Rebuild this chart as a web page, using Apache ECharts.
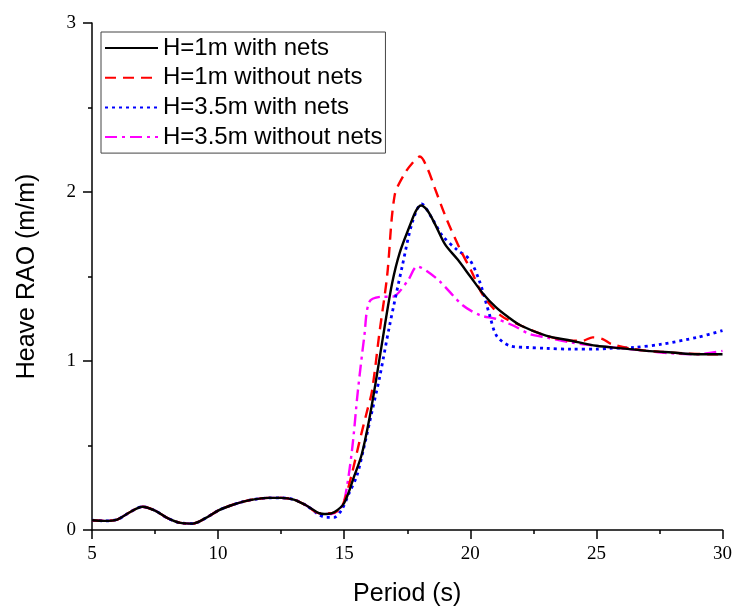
<!DOCTYPE html>
<html>
<head>
<meta charset="utf-8">
<script src="https://cdn.jsdelivr.net/npm/echarts@6/dist/echarts.min.js"></script>
<style>html,body{margin:0;padding:0;background:#fff}#c{width:735px;height:612px}</style>
</head>
<body>
<div id="c"></div>
<script>
// Shared low-period region (all four curves overlap)
const lowX = [5, 5.5, 6, 6.5, 7, 7.5, 8, 8.5, 9, 9.5, 10, 10.5, 11, 11.5, 12, 12.5, 13, 13.5];
const lowY = [0.058, 0.054, 0.062, 0.105, 0.138, 0.115, 0.07, 0.042, 0.038, 0.07, 0.115, 0.145, 0.168, 0.183, 0.19, 0.19, 0.18, 0.145];

// H=1m with nets
const blackX = [14.0, 14.3, 14.6, 15.0, 15.4, 15.7, 16.0, 16.3, 16.6, 16.9, 17.2, 17.6, 17.85, 18.05, 18.3, 18.6, 19.0, 19.5, 20.0, 20.5, 21.0, 21.5, 22.0, 23.0, 24.0, 25.0, 26.0, 27.0, 28.0, 29.0, 30.0];
const blackY = [0.10, 0.095, 0.105, 0.16, 0.32, 0.45, 0.66, 0.92, 1.20, 1.46, 1.64, 1.80, 1.89, 1.92, 1.89, 1.81, 1.69, 1.60, 1.50, 1.40, 1.32, 1.26, 1.21, 1.15, 1.12, 1.09, 1.075, 1.06, 1.05, 1.04, 1.04];

// H=1m without nets
const redX = [14.0, 14.5, 14.8, 15.0, 15.3, 15.6, 15.9, 16.1, 16.4, 16.7, 17.0, 17.4, 17.7, 18.0, 18.3, 18.6, 19.06, 19.6, 20.05, 20.5, 21.2, 22.0, 23.0, 24.0, 24.45, 24.85, 25.25, 25.6, 26.5, 27.5, 28.5, 29.5, 30.0];
const redY = [0.10, 0.10, 0.12, 0.17, 0.33, 0.52, 0.70, 0.82, 1.17, 1.50, 1.98, 2.11, 2.17, 2.21, 2.14, 2.02, 1.84, 1.66, 1.53, 1.39, 1.27, 1.21, 1.15, 1.12, 1.12, 1.14, 1.13, 1.10, 1.07, 1.055, 1.045, 1.04, 1.04];

// H=3.5m with nets
const blueX = [14.0, 14.3, 14.6, 14.9, 15.2, 15.5, 15.8, 16.1, 16.4, 16.8, 17.3, 17.7, 18.07, 18.5, 18.9, 19.46, 19.97, 20.37, 20.77, 21.04, 21.56, 22.3, 23.0, 24.0, 25.0, 25.5, 26.5, 27.6, 29.0, 30.0];
const blueY = [0.09, 0.075, 0.075, 0.12, 0.22, 0.32, 0.50, 0.70, 0.90, 1.21, 1.56, 1.82, 1.93, 1.84, 1.74, 1.66, 1.60, 1.47, 1.27, 1.15, 1.09, 1.08, 1.075, 1.07, 1.07, 1.075, 1.08, 1.10, 1.14, 1.18];

// H=3.5m without nets
const magX = [14.0, 14.5, 14.8, 15.0, 15.3, 15.54, 15.8, 16.0, 16.5, 16.9, 17.5, 17.9, 18.3, 18.8, 19.7, 20.4, 21.0, 21.7, 22.35, 23.0, 24.0, 25.0, 26.0, 27.0, 28.0, 29.0, 30.0];
const magY = [0.10, 0.095, 0.12, 0.17, 0.46, 0.82, 1.15, 1.35, 1.38, 1.38, 1.47, 1.56, 1.53, 1.47, 1.33, 1.27, 1.25, 1.21, 1.16, 1.14, 1.11, 1.09, 1.075, 1.06, 1.045, 1.04, 1.06];

const seriesNames = ['H=1m with nets', 'H=1m without nets', 'H=3.5m with nets', 'H=3.5m without nets'];
const xTicks = [5, 10, 15, 20, 25, 30];
const yTicks = [0, 1, 2, 3];

function pairs(xs, ys) {
  const a = lowX.map((x, i) => [x, lowY[i]]);
  return a.concat(xs.map((x, i) => [x, ys[i]]));
}

const styles = [
  { color: '#000000', width: 2.4, type: 'solid' },
  { color: '#ff0000', width: 2.4, type: [11, 7] },
  { color: '#0000ff', width: 2.8, type: [3, 4] },
  { color: '#ff00ff', width: 2.4, type: [12, 5, 3, 5] }
];
const datasets = [pairs(blackX, blackY), pairs(redX, redY), pairs(blueX, blueY), pairs(magX, magY)];

const chart = echarts.init(document.getElementById('c'), null, { renderer: 'canvas' });
const axisCommon = {
  axisLine: { show: true, lineStyle: { color: '#000', width: 1.5 } },
  axisTick: { show: true, inside: false, length: 9, lineStyle: { color: '#000', width: 1.5 } },
  minorTick: { show: true, splitNumber: 2, length: 4, lineStyle: { color: '#000', width: 1.5 } },
  splitLine: { show: false },
  axisLabel: { color: '#000', fontFamily: 'Liberation Serif', fontSize: 19 },
  nameTextStyle: { color: '#000', fontFamily: 'Liberation Sans', fontSize: 25 }
};
chart.setOption({
  animation: false,
  backgroundColor: '#fff',
  grid: { left: 92, right: 12, top: 23, bottom: 81, containLabel: false },
  legend: {
    data: seriesNames,
    orient: 'vertical',
    left: 101, top: 32,
    padding: [4, 3, 4, 3],
    borderColor: '#444', borderWidth: 1,
    itemWidth: 53, itemHeight: 22, itemGap: 5.7,
    itemStyle: { opacity: 0 },
    textStyle: { color: '#000', fontFamily: 'Liberation Sans', fontSize: 24, lineHeight: 22 }
  },
  xAxis: Object.assign({}, axisCommon, {
    type: 'value', min: 5, max: 30, interval: 5,
    name: 'Period (s)', nameLocation: 'middle', nameGap: 52,
    axisLabel: Object.assign({}, axisCommon.axisLabel, { margin: 15, formatter: v => xTicks.includes(v) ? String(v) : '' })
  }),
  yAxis: Object.assign({}, axisCommon, {
    type: 'value', min: 0, max: 3, interval: 1,
    name: 'Heave RAO (m/m)', nameLocation: 'middle', nameGap: 52,
    axisLabel: Object.assign({}, axisCommon.axisLabel, { margin: 16, formatter: v => yTicks.includes(v) ? String(v) : '' })
  }),
  series: seriesNames.map((n, i) => ({
    name: n, type: 'line', data: datasets[i],
    showSymbol: false, symbol: 'none',
    smooth: 0.3,
    color: styles[i].color,
    lineStyle: { color: styles[i].color, width: styles[i].width, type: styles[i].type },
    z: 10 - i
  }))
});
</script>
</body>
</html>
